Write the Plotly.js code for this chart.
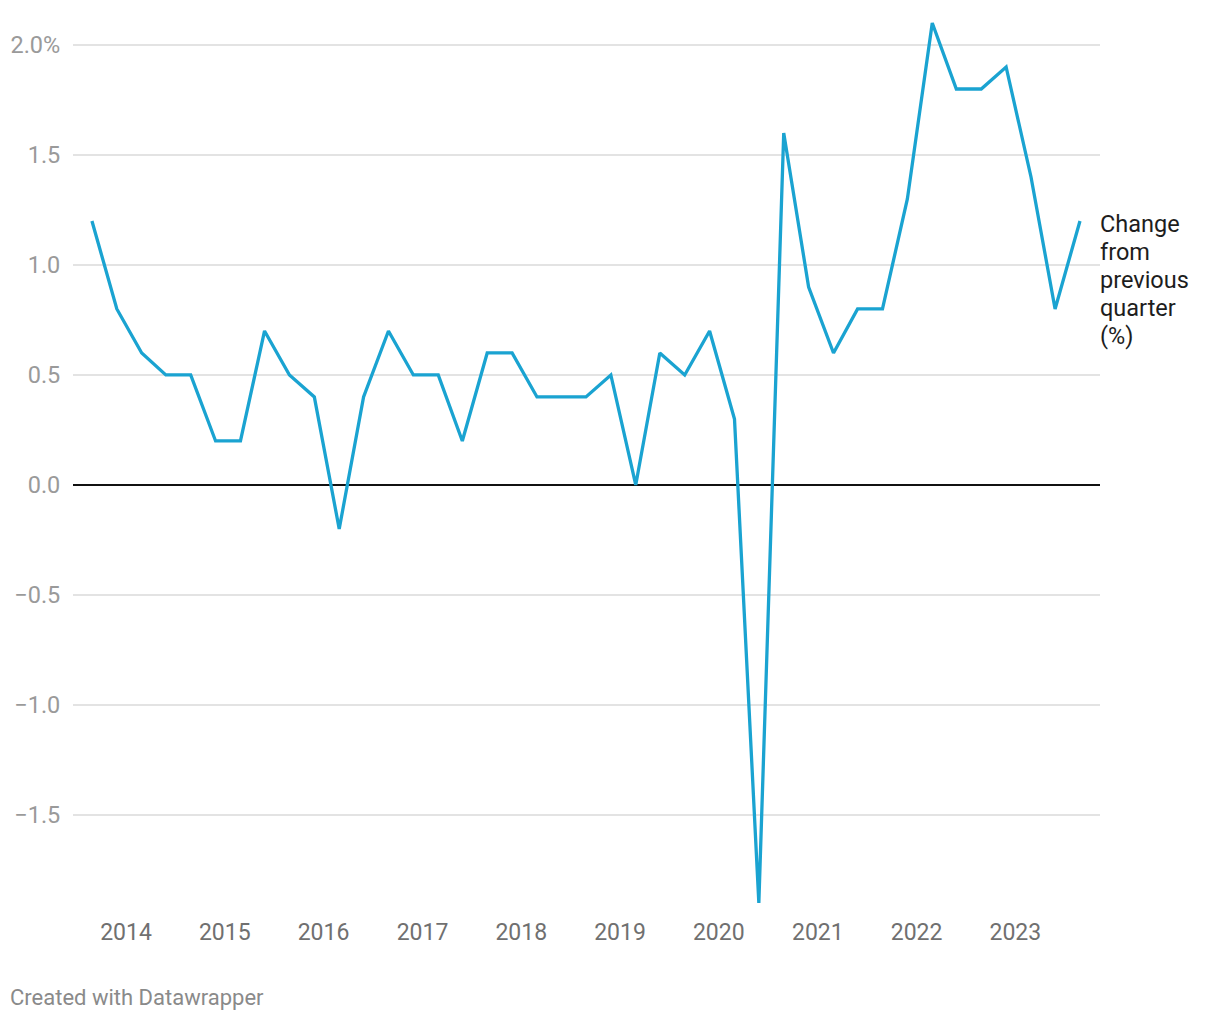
<!DOCTYPE html>
<html>
<head>
<meta charset="utf-8">
<script src="https://cdn.plot.ly/plotly-3.0.1.min.js"></script>
<style>
  html, body { margin: 0; padding: 0; background: #fff; }
  #chart { width: 1220px; height: 1020px; }
</style>
</head>
<body>
<div id="chart"></div>
<script>
// Quarterly periods (year, quarter)
const years    = [2013,2013,
                  2014,2014,2014,2014,
                  2015,2015,2015,2015,
                  2016,2016,2016,2016,
                  2017,2017,2017,2017,
                  2018,2018,2018,2018,
                  2019,2019,2019,2019,
                  2020,2020,2020,2020,
                  2021,2021,2021,2021,
                  2022,2022,2022,2022,
                  2023,2023,2023];
const quarters = [3,4,
                  1,2,3,4,
                  1,2,3,4,
                  1,2,3,4,
                  1,2,3,4,
                  1,2,3,4,
                  1,2,3,4,
                  1,2,3,4,
                  1,2,3,4,
                  1,2,3,4,
                  1,2,3];
// Change from previous quarter (%)
const changePct = [1.2,0.8,
                   0.6,0.5,0.5,0.2,
                   0.2,0.7,0.5,0.4,
                   -0.2,0.4,0.7,0.5,
                   0.5,0.2,0.6,0.6,
                   0.4,0.4,0.4,0.5,
                   0.0,0.6,0.5,0.7,
                   0.3,-1.9,1.6,0.9,
                   0.6,0.8,0.8,1.3,
                   2.1,1.8,1.8,1.9,
                   1.4,0.8,1.2];
// Axis ticks
const yTickVals = [2.0,1.5,1.0,0.5,0.0,-0.5,-1.0,-1.5];
const yTickText = ["2.0%","1.5","1.0","0.5","0.0","\u22120.5","\u22121.0","\u22121.5"];
const xTickYears = [2014,2015,2016,2017,2018,2019,2020,2021,2022,2023];
// Series label (one entry per line)
const seriesLabelLines = ["Change","from","previous","quarter","(%)"];

const midMonth = {1:'02-15', 2:'05-15', 3:'08-15', 4:'11-15'};
const xDates = years.map((y,i) => y + '-' + midMonth[quarters[i]]);
const xTickVals = xTickYears.map(y => (y-1) + '-12-19');
const xTickText = xTickYears.map(String);

const FONT = 'Roboto, "Noto Sans", Arial, sans-serif';

const trace = {
  x: xDates,
  y: changePct,
  type: 'scatter',
  mode: 'lines',
  line: { color: '#1aa3d1', width: 3.3, shape: 'linear' },
  hoverinfo: 'x+y'
};

const labelAnnotations = seriesLabelLines.map((t, i) => ({
  xref: 'paper', yref: 'y',
  x: 1, y: 1.2,
  xanchor: 'left', yanchor: 'middle',
  align: 'left',
  showarrow: false,
  xshift: -2,
  yshift: -i * 28 - 3,
  text: t,
  font: { family: FONT, size: 23.5, color: '#1d1d1d' }
}));

const layout = {
  width: 1220,
  height: 1020,
  margin: { l: 73, r: 120, t: 10, b: 110 },
  paper_bgcolor: '#ffffff',
  plot_bgcolor: '#ffffff',
  showlegend: false,
  font: { family: FONT, size: 23, color: '#333' },
  xaxis: {
    type: 'date',
    range: ['2013-06-06', '2023-10-28'],
    tickmode: 'array',
    tickvals: xTickVals,
    ticktext: xTickText,
    showgrid: false,
    zeroline: false,
    showline: false,
    ticks: 'outside',
    ticklen: 1,
    tickcolor: 'rgba(0,0,0,0)',
    tickfont: { family: FONT, size: 23, color: '#707070' }
  },
  yaxis: {
    range: [-1.932, 2.159],
    tickmode: 'array',
    tickvals: yTickVals,
    ticktext: yTickText,
    showgrid: true,
    gridcolor: '#e3e3e3',
    gridwidth: 2,
    zeroline: true,
    zerolinecolor: '#111111',
    zerolinewidth: 2,
    showline: false,
    ticks: 'outside',
    ticklen: 7,
    tickcolor: 'rgba(0,0,0,0)',
    tickfont: { family: FONT, size: 23.5, color: '#9a9a9a' }
  },
  annotations: labelAnnotations.concat([
    {
      xref: 'paper', yref: 'paper',
      x: -0.0613, y: -0.0967,
      xanchor: 'left', yanchor: 'middle',
      align: 'left',
      showarrow: false,
      xshift: -2,
      text: 'Created with Datawrapper',
      font: { family: FONT, size: 22, color: '#8a8a8a' }
    }
  ])
};

Plotly.newPlot('chart', [trace], layout, { displayModeBar: false, staticPlot: true });
</script>
</body>
</html>
